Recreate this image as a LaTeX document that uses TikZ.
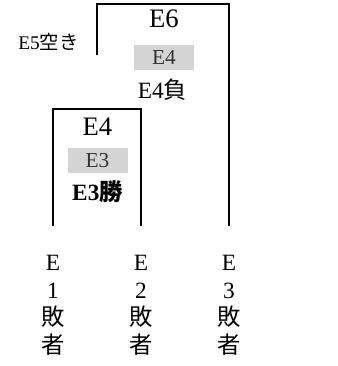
\documentclass[tikz,border=0pt]{standalone}
\usepackage{fontspec}
\setmainfont{Liberation Serif}
\newfontfamily\cjk{Noto Sans CJK JP}
\begin{document}
\begin{tikzpicture}[x=0.75pt,y=0.75pt,yscale=-1,xscale=1,
  title/.style={anchor=base,inner sep=0.75pt,font=\fontsize{20}{22}\selectfont},
  lbl/.style={anchor=base,inner sep=0.75pt,font=\fontsize{17.5}{19}\selectfont},
  seedbox/.style={fill={rgb, 255:red, 212; green, 212; blue, 212 },minimum width=45pt,minimum height=18.75pt,inner sep=0pt,text=black!80,font=\fontsize{16}{18}\selectfont}]
\path (0,0) rectangle (337,366); %set diagram size

%Bracket E6
\draw [line width=0.9]   (97,55) -- (97,4) -- (229,4) -- (229,226) ;
%Bracket E4
\draw [line width=0.9]   (53,226) -- (53,109) -- (141,109) -- (141,226) ;

% Text Node
\node [title] (e6) at (164,28) {E6};
% Text Node
\node [seedbox] (e6seed) at (164,57.5) {E4};
% Text Node
\node [lbl] (e6lose) at (162.5,99) {E4{\cjk 負}};
% Text Node
\node [anchor=base,inner sep=0.75pt,font=\fontsize{14.5}{16}\selectfont] (e5bye) at (48.5,50) {E5{\cjk 空き}};

% Text Node
\node [title] (e4) at (97.5,136) {E4};
% Text Node
\node [seedbox] (e4seed) at (97.5,161) {E3};
% Text Node
\node [lbl,font=\fontsize{17.5}{19}\selectfont\bfseries] (e4win) at (97.5,200) {E3{\cjk 勝}};

% Loser labels
\foreach \x/\n in {53/1,141/2,229/3} {
  \node [lbl] (loser\n e) at (\x,270) {E};
  \node [lbl] (loser\n n) at (\x,298) {\n};
  \node [lbl] (loser\n h) at (\x,325) {\cjk 敗};
  \node [lbl] (loser\n s) at (\x,353) {\cjk 者};
}

\end{tikzpicture}
\end{document}
